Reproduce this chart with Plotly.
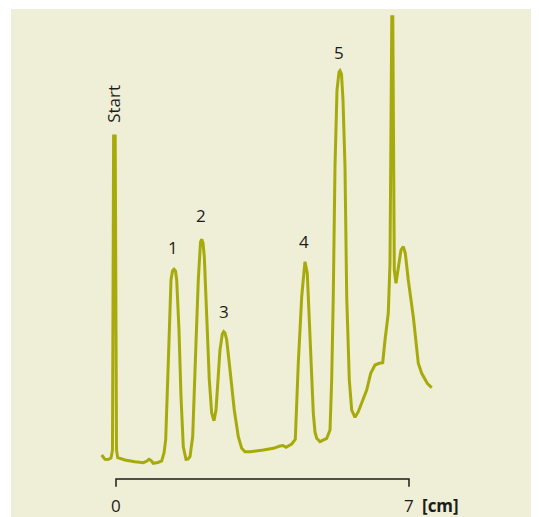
import plotly.graph_objects as go

# Chromatogram trace: migration distance (cm) and detector signal (arbitrary units)
distance_cm = [
    -0.342, -0.263, -0.191, -0.119, -0.084, -0.065, -0.057, -0.019, -0.007, 0.012,
    0.041, 0.215, 0.454, 0.652, 0.741, 0.788, 0.836, 0.891, 1.003, 1.092,
    1.147, 1.187, 1.249, 1.314, 1.350, 1.386, 1.421, 1.450, 1.505, 1.553,
    1.608, 1.672, 1.720, 1.768, 1.832, 1.871, 1.911, 1.966, 2.019, 2.047,
    2.079, 2.110, 2.167, 2.229, 2.286, 2.341, 2.389, 2.430, 2.484, 2.540,
    2.573, 2.604, 2.645, 2.724, 2.826, 2.922, 3.003, 3.082, 3.201, 3.519,
    3.758, 3.918, 3.990, 4.062, 4.198, 4.284, 4.355, 4.437, 4.515, 4.570,
    4.635, 4.714, 4.754, 4.795, 4.874, 5.034, 5.113, 5.153, 5.191, 5.232,
    5.280, 5.328, 5.352, 5.387, 5.423, 5.471, 5.512, 5.543, 5.574, 5.631,
    5.710, 5.789, 5.894, 5.989, 6.085, 6.188, 6.290, 6.372, 6.427, 6.505,
    6.546, 6.563, 6.589, 6.613, 6.637, 6.649, 6.689, 6.744, 6.809, 6.864,
    6.912, 6.983, 7.103, 7.222, 7.303, 7.437, 7.542,
]
signal = [
    2.40, 1.97, 1.95, 2.10, 2.90, 17.90, 34.30, 34.30, 17.90, 2.90,
    2.13, 1.90, 1.73, 1.63, 1.80, 1.97, 1.85, 1.57, 1.65, 1.80,
    2.60, 3.90, 11.60, 19.90, 20.80, 20.97, 20.80, 19.90, 14.90, 8.23,
    3.23, 1.97, 2.00, 2.23, 4.23, 9.90, 13.60, 19.90, 23.70, 23.97,
    23.60, 22.23, 16.60, 9.90, 6.60, 5.83, 6.90, 9.90, 12.90, 14.50,
    14.73, 14.60, 13.90, 10.90, 6.90, 4.23, 3.07, 2.73, 2.73, 2.90,
    3.07, 3.30, 3.35, 3.17, 3.50, 3.97, 11.57, 18.23, 21.73, 20.57,
    14.90, 6.57, 4.70, 4.07, 3.73, 4.07, 4.90, 9.90, 18.23, 31.23,
    38.90, 40.70, 40.83, 40.50, 37.90, 31.23, 18.23, 14.60, 9.90, 6.90,
    6.17, 6.73, 7.90, 8.90, 10.57, 11.40, 11.57, 11.63, 13.90, 16.57,
    21.57, 32.90, 46.23, 46.23, 32.90, 20.90, 19.57, 20.90, 22.90, 23.23,
    22.57, 19.90, 16.23, 11.57, 10.57, 9.57, 9.13,
]

# Peak labels
peak_labels = ["Start", "1", "2", "3", "4", "5"]
peak_label_x = [-0.076, 1.369, 2.03, 2.573, 4.49, 5.328]
peak_label_y = [37.5, 23.2, 26.4, 16.8, 23.8, 42.7]

# Scale bar ticks
tick_values = [0, 7]
tick_labels = ["0", "7"]
unit_label = "[cm]"

LINE = "#a7aa0b"
BG = "#efeed6"
INK = "#1c1c1c"
FONT = "Open Sans"

fig = go.Figure()

fig.add_trace(go.Scatter(
    x=distance_cm, y=signal, mode="lines",
    line=dict(color=LINE, width=3), hoverinfo="skip", cliponaxis=False,
))

# scale bar with end ticks
fig.add_trace(go.Scatter(
    x=[tick_values[0], tick_values[0], tick_values[1], tick_values[1]],
    y=[-0.77, 0, 0, -0.77], mode="lines",
    line=dict(color=INK, width=1.5), hoverinfo="skip",
))

annotations = []
for lab, xx, yy in zip(peak_labels, peak_label_x, peak_label_y):
    annotations.append(dict(
        x=xx, y=yy, xref="x", yref="y", text=lab, showarrow=False,
        textangle=-90 if lab == "Start" else 0,
        font=dict(family=FONT, size=17, color=INK),
        xanchor="center", yanchor="middle",
    ))
for tv, tl in zip(tick_values, tick_labels):
    annotations.append(dict(
        x=tv, y=-2.6, xref="x", yref="y", text=tl, showarrow=False,
        font=dict(family=FONT, size=17, color=INK),
        xanchor="center", yanchor="middle",
    ))
annotations.append(dict(
    x=7.757, y=-2.6, xref="x", yref="y", text="<b>" + unit_label + "</b>",
    showarrow=False, font=dict(family=FONT, size=17, color=INK),
    xanchor="center", yanchor="middle",
))

fig.update_layout(
    width=531, height=509,
    margin=dict(l=3, r=0, t=1, b=0),
    paper_bgcolor="white", plot_bgcolor=BG,
    showlegend=False,
    xaxis=dict(range=[-2.5085, 10.106], visible=False, fixedrange=True),
    yaxis=dict(range=[-3.8, 47.0], visible=False, fixedrange=True),
    annotations=annotations,
)

fig.write_html("out.html")
